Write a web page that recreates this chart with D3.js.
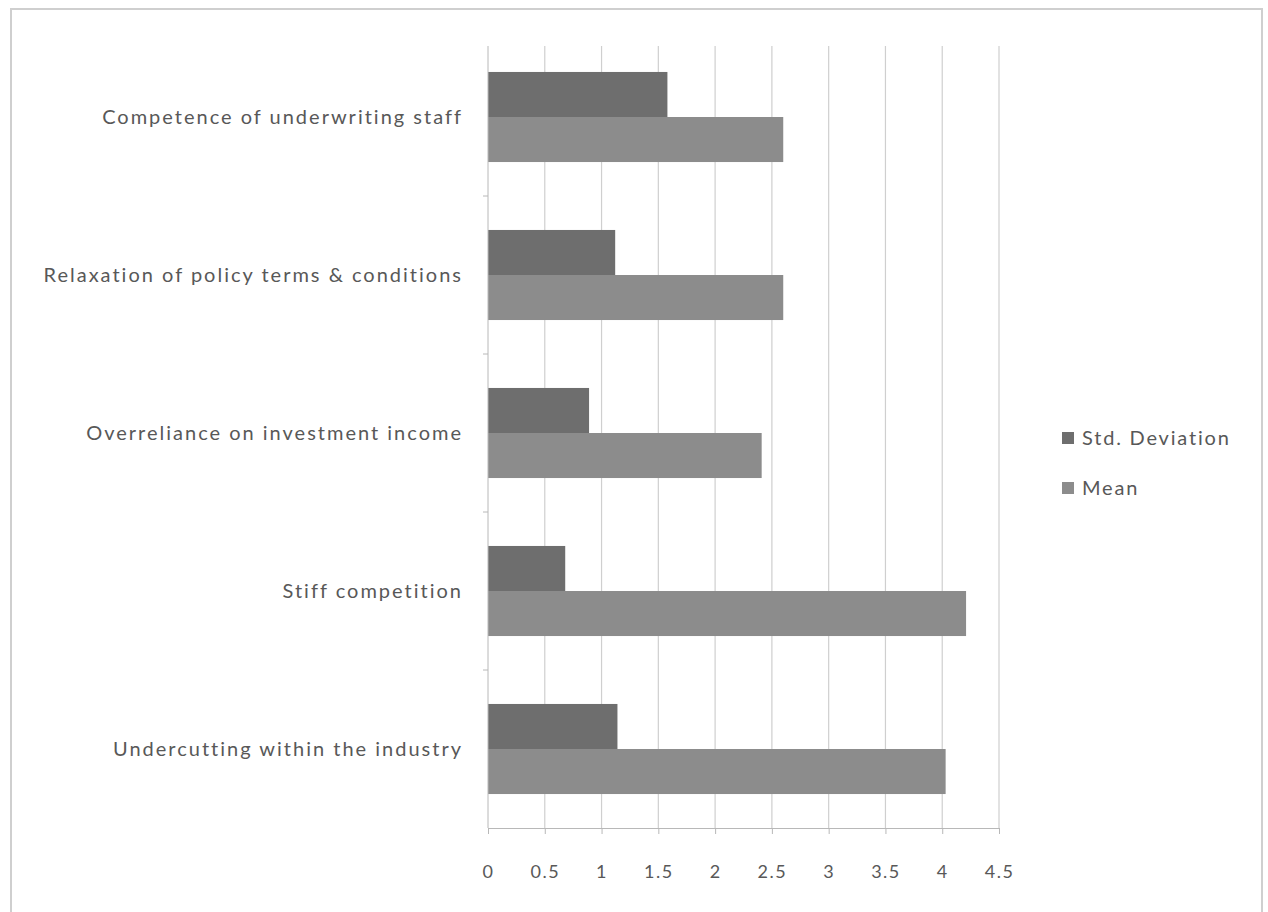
<!DOCTYPE html>
<html><head><meta charset="utf-8">
<script src="https://cdn.jsdelivr.net/npm/d3@7"></script>
<style>html,body{margin:0;padding:0;background:#fff;}svg{display:block;}</style>
</head><body>
<script>
const categories = ["Competence of underwriting staff","Relaxation of policy terms & conditions","Overreliance on investment income","Stiff competition","Undercutting within the industry"];
const seriesNames = ["Std. Deviation","Mean"];
const stdValues = [1.58, 1.12, 0.89, 0.68, 1.14];
const meanValues = [2.60, 2.60, 2.41, 4.21, 4.03];
const xTicks = [0,0.5,1,1.5,2,2.5,3,3.5,4,4.5];
const colors = ["#6e6e6e","#8c8c8c"];

(function(){
const W=1268,H=912;
const svg=d3.select("body").append("svg").attr("width",W).attr("height",H);
svg.append("rect").attr("x",11).attr("y",9).attr("width",1251).attr("height",910).attr("fill","#fff").attr("stroke","#cfcfcf").attr("stroke-width",2);

const pl=488,pr=999,pt=38,pb=828;
const x=d3.scaleLinear().domain([0,4.5]).range([pl,pr]);
const y=d3.scaleBand().domain(categories).range([pt,pb]).paddingInner(0.43).paddingOuter(0.215);
const ys=d3.scaleBand().domain(seriesNames).range([0,y.bandwidth()]);
const font="Lato, 'Open Sans', sans-serif";

// gridlines
svg.append("g").selectAll("line").data(xTicks.slice(1)).join("line")
 .attr("x1",d=>x(d)).attr("x2",d=>x(d)).attr("y1",pt+8).attr("y2",pb)
 .attr("stroke","#cfcfcf").attr("stroke-width",1.2);

// bars
const data=categories.map((c,i)=>({c,vals:[stdValues[i],meanValues[i]]}));
const g=svg.append("g");
data.forEach(d=>{
  seriesNames.forEach((s,j)=>{
    g.append("rect").attr("x",x(0)).attr("y",y(d.c)+ys(s)).attr("width",x(d.vals[j])-x(0)).attr("height",ys.bandwidth()).attr("fill",colors[j]);
  });
});

// x axis
const xa=svg.append("g").attr("transform",`translate(0,${pb})`).call(d3.axisBottom(x).tickValues(xTicks).tickFormat(d=>String(d)).tickSize(6).tickSizeOuter(0));
xa.select(".domain").attr("stroke","#b8b8b8");
xa.selectAll(".tick line").attr("stroke","#b8b8b8");
xa.selectAll("text").attr("font-family",font).attr("font-size",18).attr("letter-spacing","1.5px").attr("fill","#585858").attr("dy","0").attr("y",50);

// y axis
const yEdge=d3.scaleLinear().domain([0,categories.length]).range([pt,pb]);
const ya=svg.append("g").attr("transform",`translate(${pl},0)`);
ya.append("line").attr("x1",0).attr("x2",0).attr("y1",pt+8).attr("y2",pb).attr("stroke","#b8b8b8");
ya.selectAll("line.t").data(d3.range(1,categories.length)).join("line").attr("class","t")
 .attr("x1",-5).attr("x2",0).attr("y1",d=>yEdge(d)).attr("y2",d=>yEdge(d)).attr("stroke","#b8b8b8");
svg.append("g").selectAll("text").data(categories).join("text")
 .attr("x",463).attr("y",d=>y(d)+y.bandwidth()/2).attr("dy","0.35em").attr("text-anchor","end")
 .attr("font-family",font).attr("font-size",20).attr("letter-spacing","2px").attr("fill","#585858").text(d=>d);

// legend
const lg=svg.append("g");
seriesNames.forEach((s,i)=>{
  const ly=438+i*50;
  lg.append("rect").attr("x",1062).attr("y",ly-6).attr("width",12).attr("height",12).attr("fill",colors[i]);
  lg.append("text").attr("x",1082).attr("y",ly).attr("dy","0.35em").attr("font-family",font).attr("font-size",20).attr("letter-spacing","1.8px").attr("fill","#585858").text(s);
});
})();
</script>
</body></html>
